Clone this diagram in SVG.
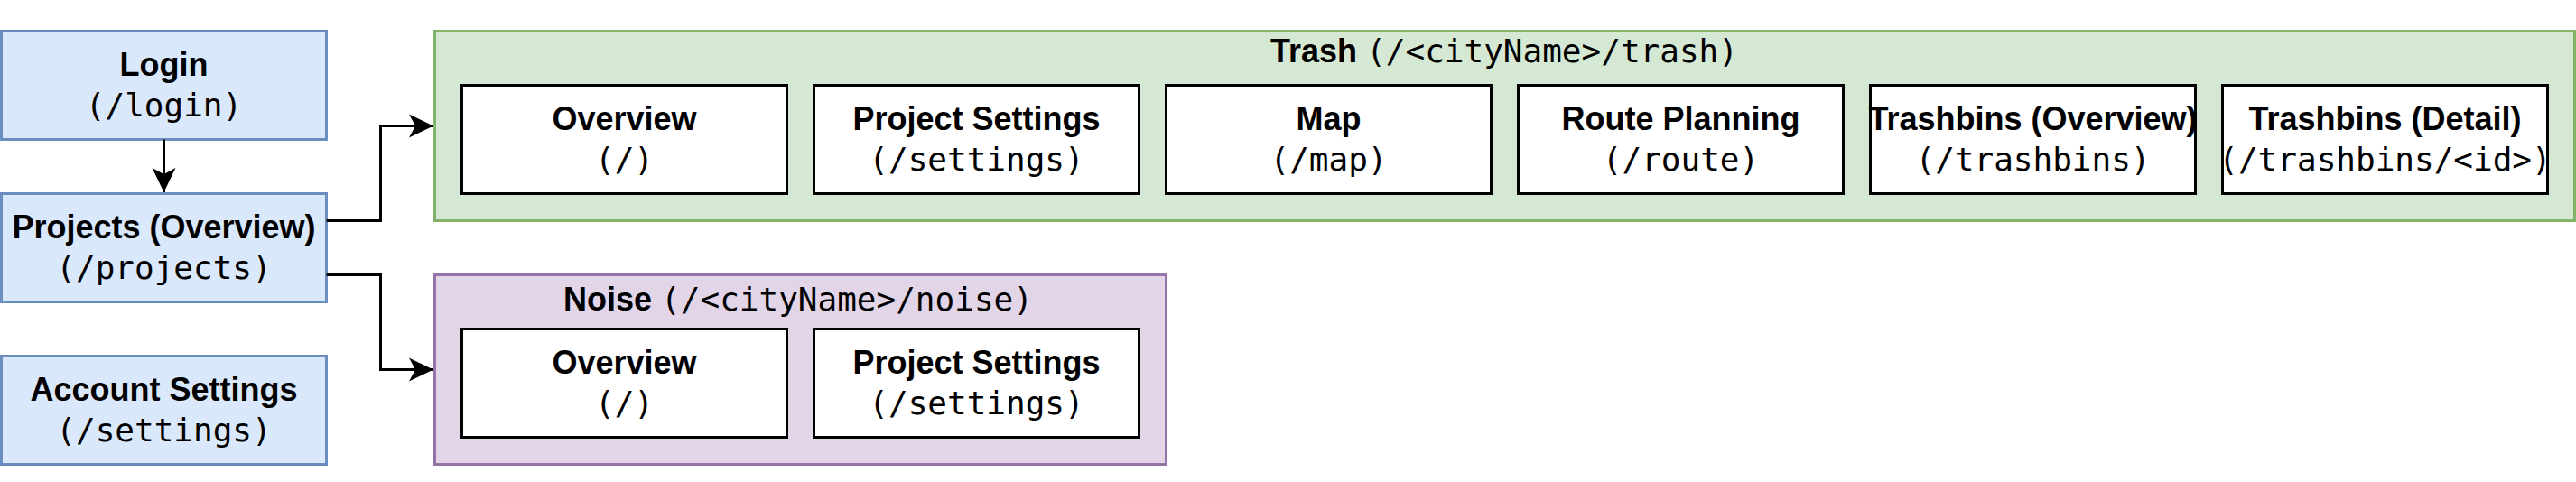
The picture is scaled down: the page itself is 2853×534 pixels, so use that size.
<svg xmlns="http://www.w3.org/2000/svg" width="2853" height="534" viewBox="0 0 2853 534">
<style>
.blue{fill:#dae8fc;stroke:#6c8ebf;stroke-width:3}
.green{fill:#d5e8d4;stroke:#82b366;stroke-width:3}
.purple{fill:#e1d5e7;stroke:#9673a6;stroke-width:3}
.page{fill:#ffffff;stroke:#000000;stroke-width:3}
.t{font-family:"Liberation Sans",Arial,Helvetica,sans-serif;font-weight:bold;font-size:36px;fill:#000;text-anchor:middle}
.m{font-family:"DejaVu Sans Mono","Liberation Mono",monospace;font-weight:normal;font-size:36px;fill:#000;text-anchor:middle}
.mi{font-family:"DejaVu Sans Mono","Liberation Mono",monospace;font-weight:normal;font-size:36px}
.edge{fill:none;stroke:#000;stroke-width:3}
</style>
<defs>
<marker id="arrow" markerUnits="userSpaceOnUse" markerWidth="28" markerHeight="28" viewBox="0 0 28 28" refX="27" refY="14" orient="auto">
<path d="M27,14 L0,1 L7,14 L0,27 Z" fill="#000"/>
</marker>
</defs>
<rect width="2853" height="534" fill="#ffffff"/>

<g id="containers">
<g id="trash">
<rect class="green" x="481.5" y="34.5" width="2370" height="210"/>
<text class="t" x="1666" y="69">Trash <tspan class="mi">(/&lt;cityName&gt;/trash)</tspan></text>
</g>
<g id="noise">
<rect class="purple" x="481.5" y="304.5" width="810" height="210"/>
<text class="t" x="884" y="344">Noise <tspan class="mi">(/&lt;cityName&gt;/noise)</tspan></text>
</g>
</g>

<g id="login">
<rect class="blue" x="1.5" y="34.5" width="360" height="120"/>
<text class="t" x="181.5" y="84">Login</text>
<text class="m" x="181.5" y="129">(/login)</text>
</g>
<g id="projects">
<rect class="blue" x="1.5" y="214.5" width="360" height="120"/>
<text class="t" x="181.5" y="264">Projects (Overview)</text>
<text class="m" x="181.5" y="309">(/projects)</text>
</g>
<g id="account-settings">
<rect class="blue" x="1.5" y="394.5" width="360" height="120"/>
<text class="t" x="181.5" y="444">Account Settings</text>
<text class="m" x="181.5" y="489">(/settings)</text>
</g>

<g id="trash-overview">
<rect class="page" x="511.5" y="94.5" width="360" height="120"/>
<text class="t" x="691.5" y="144">Overview</text>
<text class="m" x="691.5" y="188.5">(/)</text>
</g>
<g id="trash-project-settings">
<rect class="page" x="901.5" y="94.5" width="360" height="120"/>
<text class="t" x="1081.5" y="144">Project Settings</text>
<text class="m" x="1081.5" y="188.5">(/settings)</text>
</g>
<g id="trash-map">
<rect class="page" x="1291.5" y="94.5" width="360" height="120"/>
<text class="t" x="1471.5" y="144">Map</text>
<text class="m" x="1471.5" y="188.5">(/map)</text>
</g>
<g id="trash-route-planning">
<rect class="page" x="1681.5" y="94.5" width="360" height="120"/>
<text class="t" x="1861.5" y="144">Route Planning</text>
<text class="m" x="1861.5" y="188.5">(/route)</text>
</g>
<g id="trash-trashbins-overview">
<rect class="page" x="2071.5" y="94.5" width="360" height="120"/>
<text class="t" x="2251.5" y="144">Trashbins (Overview)</text>
<text class="m" x="2251.5" y="188.5">(/trashbins)</text>
</g>
<g id="trash-trashbins-detail">
<rect class="page" x="2461.5" y="94.5" width="360" height="120"/>
<text class="t" x="2641.5" y="144">Trashbins (Detail)</text>
<text class="m" x="2641.5" y="188.5">(/trashbins/&lt;id&gt;)</text>
</g>

<g id="noise-overview">
<rect class="page" x="511.5" y="364.5" width="360" height="120"/>
<text class="t" x="691.5" y="414">Overview</text>
<text class="m" x="691.5" y="458.5">(/)</text>
</g>
<g id="noise-project-settings">
<rect class="page" x="901.5" y="364.5" width="360" height="120"/>
<text class="t" x="1081.5" y="414">Project Settings</text>
<text class="m" x="1081.5" y="458.5">(/settings)</text>
</g>

<g id="connectors">
<path class="edge" d="M181.5,154.5 L181.5,213" marker-end="url(#arrow)"/>
<path class="edge" d="M361.5,244.5 L421.5,244.5 L421.5,139.5 L480,139.5" marker-end="url(#arrow)"/>
<path class="edge" d="M361.5,304.5 L421.5,304.5 L421.5,409.5 L480,409.5" marker-end="url(#arrow)"/>
</g>
</svg>
